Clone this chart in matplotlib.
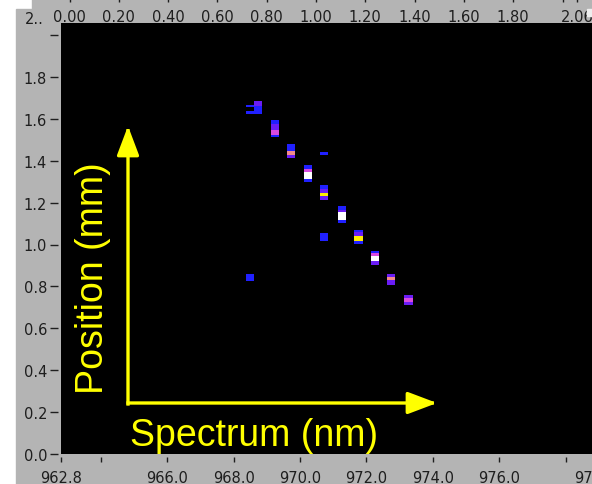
import matplotlib.pyplot as plt
from matplotlib.patches import Rectangle
from matplotlib.colors import ListedColormap

# Intensity cells: one entry per coloured band
# (wavelength centre in nm, position range in mm, intensity level 1..6)
band_wl = [968.49, 968.49, 968.49,
           968.73, 968.73,
           969.25, 969.25, 969.25, 969.25,
           969.73, 969.73, 969.73,
           970.25, 970.25, 970.25, 970.25,
           970.72, 970.72, 970.72, 970.72, 970.72, 970.72,
           971.26, 971.26, 971.26, 971.26,
           971.76, 971.76, 971.76, 971.76,
           972.26, 972.26, 972.26, 972.26,
           972.75, 972.75, 972.75,
           973.27, 973.27, 973.27]
band_lo = [1.656, 1.624, 0.827,
           1.659, 1.624,
           1.573, 1.545, 1.524, 1.511,
           1.444, 1.429, 1.413,
           1.360, 1.344, 1.313, 1.298,
           1.429, 1.266, 1.246, 1.233, 1.214, 1.018,
           1.163, 1.153, 1.119, 1.103,
           1.058, 1.039, 1.018, 1.002,
           0.959, 0.943, 0.919, 0.903,
           0.845, 0.829, 0.805,
           0.745, 0.726, 0.713]
band_hi = [1.667, 1.639, 0.861,
           1.683, 1.659,
           1.592, 1.573, 1.545, 1.524,
           1.480, 1.444, 1.429,
           1.381, 1.360, 1.344, 1.313,
           1.443, 1.282, 1.266, 1.246, 1.233, 1.055,
           1.184, 1.163, 1.153, 1.119,
           1.071, 1.058, 1.039, 1.018,
           0.970, 0.959, 0.943, 0.919,
           0.859, 0.845, 0.829,
           0.759, 0.745, 0.726]
band_level = [1, 1, 1,
              2, 1,
              1, 2, 3, 1,
              1, 4, 2,
              1, 3, 6, 1,
              1, 1, 2, 5, 2, 1,
              1, 2, 6, 1,
              1, 2, 5, 1,
              1, 3, 6, 2,
              2, 4, 2,
              2, 3, 2]
cell_width = 0.25

# axis ticks
x_ticks = [962.8, 964.0, 966.0, 968.0, 970.0, 972.0, 974.0, 976.0, 978.0, 978.9]
x_labels = ['962.8', '', '966.0', '968.0', '970.0', '972.0', '974.0', '976.0', '', '978.9']
y_ticks = [0.0, 0.2, 0.4, 0.6, 0.8, 1.0, 1.2, 1.4, 1.6, 1.8, 2.0]
y_labels = ['0.0', '0.2', '0.4', '0.6', '0.8', '1.0', '1.2', '1.4', '1.6', '1.8', '']
top_ticks = [0.0, 0.2, 0.4, 0.6, 0.8, 1.0, 1.2, 1.4, 1.6, 1.8, 2.0, 2.06]
top_labels = ['0.00', '0.20', '0.40', '0.60', '0.80', '1.00', '1.20', '1.40', '1.60', '1.80', '', '2.06']

# LabVIEW-like colour ramp, level 0 = black
cmap = ListedColormap(['#000000', '#2020ff', '#6a1cf5', '#d84ae0', '#f28a8a', '#ffee00', '#ffffff'])

W, H = 592, 485
panel = '#b4b4b4'
ink = '#1e1e1e'
yellow = '#ffff00'

fig = plt.figure(figsize=(W / 100, H / 100), dpi=100, facecolor='white')
fig.patches.append(Rectangle((16 / W, 0), 1, (H - 10) / H, transform=fig.transFigure, color=panel, zorder=-10))
fig.patches.append(Rectangle((32 / W, 0), 1, 1, transform=fig.transFigure, color=panel, zorder=-10))
fig.patches.append(Rectangle((587 / W, (H - 17) / H), 5 / W, 7 / H, transform=fig.transFigure, color='#eeeeee', zorder=10))

# main intensity plot, 962.8 at x=61 px, 33.2 px per nm
left, right, top, bottom = 61, 600, 24, 455
ax = fig.add_axes([left / W, (H - bottom) / H, (right - left) / W, (bottom - top) / H])
ax.set_facecolor('black')
ax.bar(band_wl, [h - l for h, l in zip(band_hi, band_lo)], bottom=band_lo, width=cell_width,
       color=[cmap(v) for v in band_level], linewidth=0)
ax.set_xlim(962.8, 962.8 + (right - left) / 33.2)
ax.set_ylim(0, (bottom - top) / 209.5)

ax.set_xticks(x_ticks)
ax.set_xticklabels(x_labels)
ax.set_yticks(y_ticks)
ax.set_yticklabels(y_labels)
for s in ax.spines.values():
    s.set_visible(False)
ax.spines['left'].set_position(('outward', 2.2))
ax.spines['bottom'].set_position(('outward', 2.2))
ax.tick_params(axis='y', direction='out', length=5.8, width=1, color=ink, pad=2,
               labelsize=10.5, labelcolor=ink)
ax.tick_params(axis='x', direction='out', length=3.6, width=1, color=ink, pad=5.5,
               labelsize=10.5, labelcolor=ink)

# separate scale drawn along the very top of the panel
axt = fig.add_axes([left / W, 1.002, (right - left) / W, 0.01])
axt.set_xlim((left - 69.5) / 246.5, (right - 69.5) / 246.5)
axt.set_xticks(top_ticks)
axt.set_xticklabels(top_labels)
axt.set_yticks([])
for s in axt.spines.values():
    s.set_visible(False)
axt.patch.set_visible(False)
axt.tick_params(axis='x', direction='out', length=3, width=1, color=ink, pad=5,
                labelsize=10.5, labelcolor=ink)

fig.text(34 / W, (H - 20) / H, '2..', fontsize=10.5, color=ink, ha='center', va='center')

# yellow overlay arrows and captions
arrow = dict(arrowstyle='-|>,head_length=0.9,head_width=0.34', lw=2.4, color=yellow,
             shrinkA=0, shrinkB=0, mutation_scale=20, capstyle='projecting')
ax.annotate('', xy=(128, H - 127), xytext=(128, H - 405), xycoords='figure pixels',
            textcoords='figure pixels', arrowprops=arrow)
ax.annotate('', xy=(437, H - 404), xytext=(128, H - 404), xycoords='figure pixels',
            textcoords='figure pixels', arrowprops=arrow)
fig.text(254 / W, (H - 446) / H, 'Spectrum (nm)', fontsize=27, family='Liberation Sans',
         color=yellow, ha='center', va='baseline')
fig.text(93 / W, (H - 278) / H, 'Position (mm)', fontsize=27, family='Liberation Sans',
         color=yellow, ha='center', va='center', rotation=90)

fig.savefig('out.png', dpi=100, facecolor=fig.get_facecolor())
